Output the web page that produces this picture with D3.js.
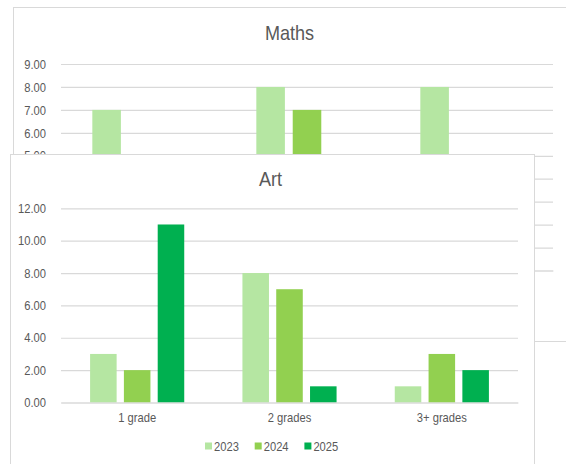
<!DOCTYPE html>
<html>
<head>
<meta charset="utf-8">
<script src="https://cdn.jsdelivr.net/npm/d3@7"></script>
<style>
  html, body { margin: 0; padding: 0; background: #ffffff; }
  svg { display: block; }
  text { font-family: "Liberation Sans", Arial, sans-serif; fill: #595959; }
</style>
</head>
<body>
<svg id="chart" width="566" height="464"></svg>
<script>
// ---- data ----
const categories = ["1 grade", "2 grades", "3+ grades"];
const years = ["2023", "2024", "2025"];
const mathsTitle = "Maths";
const maths2023 = [7, 8, 8];
const maths2024 = [3, 7, 2];
const maths2025 = [2, 4, 3];
const mathsTicks = [0, 1, 2, 3, 4, 5, 6, 7, 8, 9];
const mathsVisibleTickLabels = [5, 6, 7, 8, 9];
const artTitle = "Art";
const art2023 = [3, 8, 1];
const art2024 = [2, 7, 3];
const art2025 = [11, 1, 2];
const artTicks = [0, 2, 4, 6, 8, 10, 12];
const yearColors = ["#b5e6a2", "#92d050", "#00b050"];

const svg = d3.select("#chart");

function drawChart(cfg) {
  const g = svg.append("g");
  // card
  g.append("rect")
    .attr("x", cfg.box.x + 0.5).attr("y", cfg.box.y + 0.5)
    .attr("width", cfg.box.w).attr("height", cfg.box.h)
    .attr("fill", "#ffffff").attr("stroke", "#d9d9d9").attr("stroke-width", 1);

  const x = d3.scaleBand().domain(categories).range([cfg.left, cfg.right]).padding(0);
  const y = d3.scaleLinear().domain([0, d3.max(cfg.ticks)]).range([cfg.y0, cfg.yTop]);
  const groupW = x.bandwidth() * 0.618;
  const xs = d3.scaleBand().domain(years).range([-groupW / 2, groupW / 2]).paddingInner(0.215).paddingOuter(0);

  // gridlines
  const grid = d3.axisLeft(y).tickValues(cfg.ticks).tickFormat("").tickSize(-(cfg.right - cfg.left));
  const gg = g.append("g").attr("transform", `translate(${cfg.left},0)`).call(grid);
  gg.select(".domain").remove();
  gg.selectAll(".tick line").attr("stroke", "#d9d9d9").attr("stroke-width", 1.2);

  // y tick labels
  const yAxis = d3.axisLeft(y).tickValues(cfg.labelTicks).tickFormat(d3.format(".2f")).tickSize(0).tickPadding(15);
  const ga = g.append("g").attr("transform", `translate(${cfg.left},0)`).call(yAxis);
  ga.select(".domain").remove();
  ga.selectAll(".tick text").style("font-size", "13px").attr("fill", "#595959");

  // bars
  const series = cfg.series.map((vals, i) => ({ year: years[i], vals }));
  const sg = g.append("g").selectAll("g").data(series).join("g").attr("fill", (d, i) => yearColors[i]);
  sg.selectAll("rect").data(d => d.vals.map((v, j) => ({ year: d.year, cat: categories[j], v })))
    .join("rect")
    .attr("x", d => x(d.cat) + x.bandwidth() / 2 + xs(d.year))
    .attr("width", xs.bandwidth())
    .attr("y", d => y(d.v))
    .attr("height", d => y(0) - y(d.v));

  // x axis
  const xAxis = d3.axisBottom(x).tickSize(0).tickPadding(10);
  if (!cfg.showXLabels) xAxis.tickFormat("");
  const gx = g.append("g").attr("transform", `translate(0,${cfg.y0})`).call(xAxis);
  gx.select(".domain").attr("stroke", "#d9d9d9").attr("stroke-width", 1.2);
  gx.selectAll(".tick text").style("font-size", "13px").attr("fill", "#595959");
  if (!cfg.showXLabels) gx.selectAll(".tick text").remove();

  // title
  g.append("text").attr("x", cfg.titleX).attr("y", cfg.titleY)
    .attr("text-anchor", "middle").attr("dominant-baseline", "central")
    .style("font-size", "21px").text(cfg.title);

  // legend
  if (cfg.showLegend) {
    const lg = g.append("g").attr("transform", `translate(${cfg.legendX},${cfg.legendY})`);
    const items = lg.selectAll("g").data(years).join("g").attr("transform", (d, i) => `translate(${i * 49.7},0)`);
    items.append("rect").attr("x", 0).attr("y", -3.5).attr("width", 7).attr("height", 7).attr("fill", (d, i) => yearColors[i]);
    items.append("text").attr("x", 9).attr("y", 0).attr("dominant-baseline", "central").style("font-size", "13px").text(d => d);
  }
}

drawChart({
  box: { x: 13, y: 7, w: 560, h: 334 },
  left: 61, right: 553, y0: 270.5, yTop: 64,
  ticks: mathsTicks, labelTicks: mathsVisibleTickLabels, series: [maths2023, maths2024, maths2025],
  title: mathsTitle, titleX: 289.5, titleY: 32,
  showXLabels: false, showLegend: false
});

drawChart({
  box: { x: 10, y: 154, w: 524, h: 330 },
  left: 61, right: 518, y0: 402.5, yTop: 208.3,
  ticks: artTicks, labelTicks: artTicks, series: [art2023, art2024, art2025],
  title: artTitle, titleX: 270.5, titleY: 178,
  showXLabels: true, showLegend: true, legendX: 205, legendY: 446
});

// condense glyphs to imitate the narrow typeface of the original
svg.selectAll("text").each(function () {
  const len = this.getComputedTextLength();
  if (len > 0) d3.select(this).attr("textLength", len * 0.86).attr("lengthAdjust", "spacingAndGlyphs");
});
</script>
</body>
</html>
